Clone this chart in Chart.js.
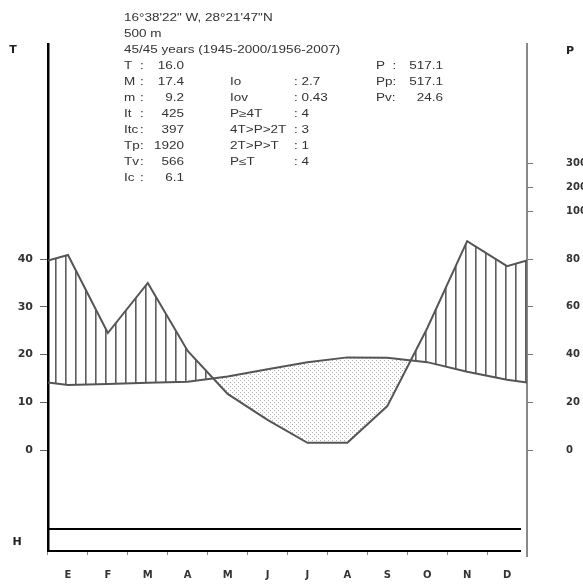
<!DOCTYPE html>
<html>
<head>
<meta charset="utf-8">
<script src="https://cdn.jsdelivr.net/npm/chart.js@4.4.1/dist/chart.umd.min.js"></script>
<style>
  html, body { margin: 0; padding: 0; background: #fff; }
</style>
</head>
<body>
<canvas id="chart" width="583" height="584"></canvas>
<script>
// monthly values
let months = ['E', 'F', 'M', 'A', 'M', 'J', 'J', 'A', 'S', 'O', 'N', 'D'];
let temps = [13.6, 13.8, 14.1, 14.3, 15.4, 16.9, 18.4, 19.4, 19.3, 18.4, 16.4, 14.7];
let precip = [81.7, 49, 70, 41.5, 23.5, 12.6, 3, 3, 18.4, 51, 87.5, 77];
let tTicks = [0, 10, 20, 30, 40];
let pTicks = [0, 20, 40, 60, 80, 100, 200, 300];

let headerLines = ["16°38'22\" W, 28°21'47\"N", '500 m', '45/45 years (1945-2000/1956-2007)'];
let statNames = ['T', 'M', 'm', 'It', 'Itc', 'Tp', 'Tv', 'Ic'];
let statValues = ['16.0', '17.4', '9.2', '425', '397', '1920', '566', '6.1'];
let indexNames = ['Io', 'Iov', 'P≥4T', '4T>P>2T', '2T>P>T', 'P≤T'];
let indexValues = ['2.7', '0.43', '4', '3', '1', '4'];
let precipNames = ['P', 'Pp', 'Pv'];
let precipValues = ['517.1', '517.1', '24.6'];

// above 100 mm the precipitation axis is compressed ten times
const pScale = p => p <= 100 ? p : 100 + (p - 100) / 10;

// curves run from axis to axis, closing the year between Dec and Jan
function curve(vals) {
    let edge = (vals[0] + vals[11]) / 2;
    let pts = [{x: 0, y: edge}];
    vals.forEach((v, i) => pts.push({x: i + 0.5, y: v}));
    pts.push({x: 12, y: edge});
    return pts;
}

function makePattern(w, h, draw) {
    let c = document.createElement('canvas');
    c.width = w; c.height = h;
    draw(c.getContext('2d'));
    return document.getElementById('chart').getContext('2d').createPattern(c, 'repeat');
}
let hatch = makePattern(10, 10, g => {
    g.fillStyle = '#5e5e5e';
    g.fillRect(5, 0, 1.6, 10);
});
let dots = makePattern(4, 4, g => {
    g.fillStyle = '#b0b0b0';
    g.fillRect(0, 0, 1, 1);
    g.fillRect(2, 2, 1, 1);
});

const overlay = {
    id: 'overlay',
    afterDraw(chart) {
        let ctx = chart.ctx;
        let a = chart.chartArea;
        ctx.save();
        // frost band at the bottom
        ctx.strokeStyle = '#000';
        ctx.lineWidth = 2;
        ctx.beginPath();
        ctx.moveTo(a.left, a.bottom - 22); ctx.lineTo(a.right - 6, a.bottom - 22);
        ctx.moveTo(a.left, a.bottom); ctx.lineTo(a.right - 6, a.bottom);
        ctx.stroke();
        // P axis runs a little below the frame
        ctx.strokeStyle = '#888';
        ctx.beginPath();
        ctx.moveTo(a.right, a.bottom); ctx.lineTo(a.right, a.bottom + 6);
        ctx.stroke();

        ctx.fillStyle = '#222';
        ctx.font = 'bold 11px "DejaVu Sans"';
        ctx.textAlign = 'center';
        ctx.textBaseline = 'middle';
        ctx.fillText('T', 13, 50);
        ctx.fillText('P', 570, 51);
        ctx.fillText('H', 17, 542);

        // station text
        ctx.fillStyle = '#333';
        ctx.font = '10px "Liberation Sans"';
        function txt(s, x, y, align) {
            ctx.save();
            ctx.translate(x, y);
            ctx.scale(1.35, 1);
            ctx.textAlign = align || 'left';
            ctx.fillText(s, 0, 0);
            ctx.restore();
        }
        headerLines.forEach((s, i) => txt(s, 124, 18 + 16 * i));
        statNames.forEach((s, i) => {
            let y = 66 + 16 * i;
            txt(s, 124, y);
            txt(':', 140, y);
            txt(statValues[i], 184, y, 'right');
        });
        indexNames.forEach((s, i) => {
            let y = 82 + 16 * i;
            txt(s, 230, y);
            txt(': ' + indexValues[i], 294, y);
        });
        precipNames.forEach((s, i) => {
            let y = 66 + 16 * i;
            txt(s + (i ? ':' : '  :'), 376, y);
            txt(precipValues[i], 443, y, 'right');
        });
        ctx.restore();
    }
};

let chart = new Chart(document.getElementById('chart'), {
    type: 'line',
    data: {
        labels: months,
        datasets: [{
            label: 'T',
            data: curve(temps),
            yAxisID: 'y',
            xAxisID: 'x',
            borderColor: '#555',
            borderWidth: 2,
            pointRadius: 0,
            fill: false
        }, {
            label: 'P',
            data: curve(precip).map(p => ({x: p.x, y: pScale(p.y)})),
            yAxisID: 'y2',
            xAxisID: 'x',
            borderColor: '#555',
            borderWidth: 2,
            pointRadius: 0,
            fill: {target: 0, above: hatch, below: dots}
        }]
    },
    options: {
        responsive: false,
        animation: false,
        layout: {padding: {top: 44}},
        plugins: {legend: {display: false}, tooltip: {enabled: false}},
        scales: {
            x: {type: 'linear', min: 0, max: 12, display: false},
            xm: {
                type: 'category',
                position: 'bottom',
                offset: true,
                grid: {offset: true, drawOnChartArea: false, tickLength: 4, color: '#888'},
                border: {display: false},
                ticks: {font: {family: 'DejaVu Sans', size: 10, weight: 'bold'}, color: '#333', padding: 14, maxRotation: 0, autoSkip: false},
                afterFit: s => { s.height = 33; }
            },
            y: {
                position: 'left',
                min: -21.15,
                max: 85.03,
                afterBuildTicks: s => { s.ticks = tTicks.map(v => ({value: v})); },
                grid: {drawOnChartArea: false, tickLength: 8, color: '#666'},
                border: {color: '#000', width: 2.5},
                ticks: {font: {family: 'DejaVu Sans', size: 11, weight: 'bold'}, color: '#333', padding: 7},
                afterFit: s => { s.width = 48; s.paddingTop = 0; s.paddingBottom = 0; }
            },
            y2: {
                position: 'right',
                min: -42.3,
                max: 170.06,
                afterBuildTicks: s => { s.ticks = pTicks.map(p => ({value: pScale(p)})); },
                grid: {drawOnChartArea: false, tickLength: 6, color: '#777'},
                border: {color: '#888', width: 2},
                ticks: {font: {family: 'DejaVu Sans', size: 10, weight: 'bold'}, color: '#333', padding: 33, callback: (v, i) => pTicks[i]},
                afterFit: s => { s.width = 56; s.paddingTop = 0; s.paddingBottom = 0; }
            }
        }
    },
    plugins: [overlay]
});
</script>
</body>
</html>
